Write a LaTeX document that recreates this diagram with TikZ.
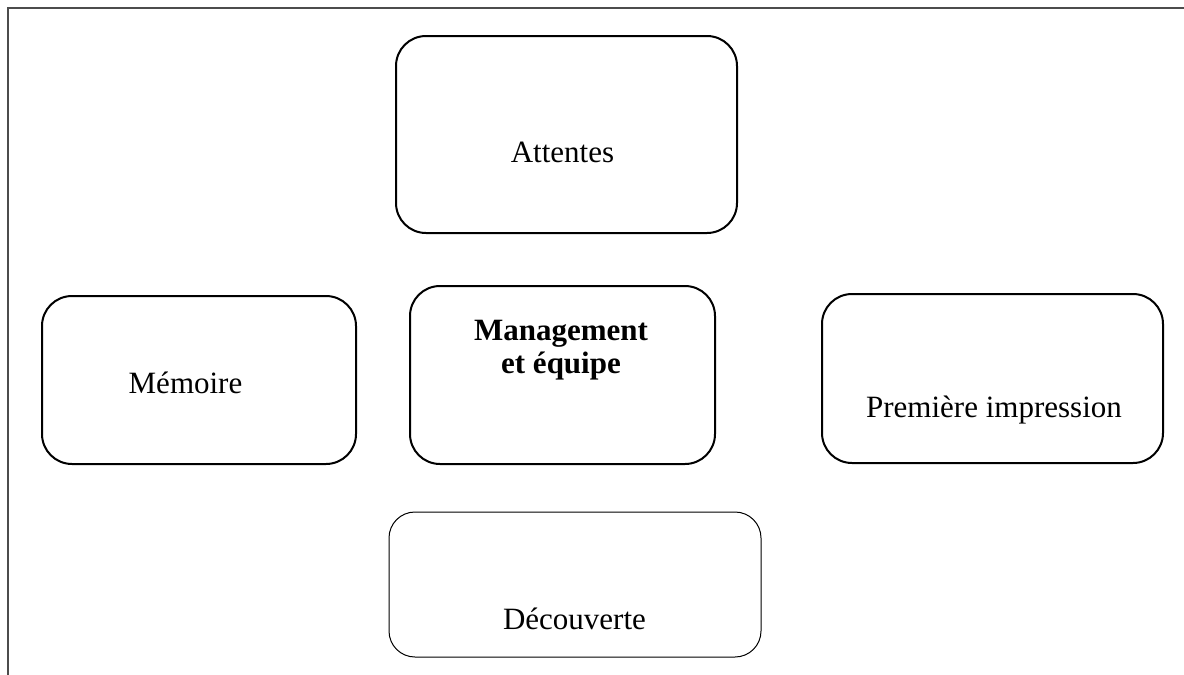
\documentclass[tikz,border=0pt]{standalone}
\usepackage{fontspec}
\setmainfont{Liberation Serif}
\usetikzlibrary{positioning}

\begin{document}
\begin{tikzpicture}[x=0.5pt,y=-0.5pt,
    box/.style={draw,rounded corners=15pt,line width=1pt,inner sep=0pt},
    thinbox/.style={box,line width=0.5pt,rounded corners=13pt},
    lbl/.style={font=\fontsize{15.5}{16.5}\selectfont,align=center,inner sep=0pt}]
    \useasboundingbox (0,0) rectangle (1184,675);
    % frame
    \draw[line width=0.9pt,gray!60!black] (1184,8) -- (8,8) -- (8,675);

    \node[box,minimum width=170.5pt,minimum height=98.5pt] (attentes) at (566.5,134.5) {};
    \node[box,minimum width=157pt,minimum height=84pt] (memoire) at (199,380) {};
    \node[box,minimum width=152.5pt,minimum height=89pt] (management) at (562.5,375) {};
    \node[box,minimum width=170.5pt,minimum height=84.5pt] (premiere) at (992.5,378.5) {};
    \node[thinbox,minimum width=186pt,minimum height=72.5pt] (decouverte) at (575,584.5) {};

    \node[lbl] (tattentes) at (562.5,152) {Attentes};
    \node[lbl] (tmemoire) at (185.5,383) {Mémoire};
    \node[lbl,font=\fontsize{15.5}{16.5}\selectfont\bfseries] (tmanagement) at (561,350) {Management\\et équipe};
    \node[lbl] (tpremiere) at (994,410) {Première impression};
    \node[lbl] (tdecouverte) at (574.5,619) {Découverte};
\end{tikzpicture}
\end{document}
